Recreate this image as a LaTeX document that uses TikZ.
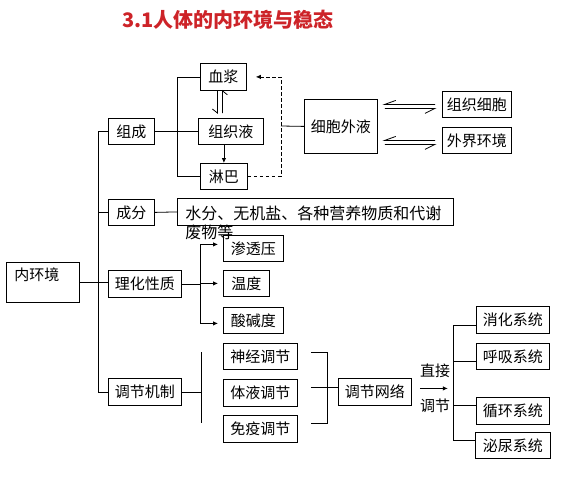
\documentclass[tikz,border=0pt]{standalone}
\usepackage{fontspec}
\newfontfamily\cjk{Noto Sans CJK SC}
\usetikzlibrary{arrows.meta,calc}
\definecolor{titlered}{RGB}{205,35,40}
\begin{document}
\begin{tikzpicture}[x=1pt,y=-1pt,line width=0.8pt,
  box/.style={draw,inner sep=0pt,anchor=north west,font=\cjk\fontsize{15}{19}\selectfont},
  lbl/.style={inner sep=0pt,font=\cjk\fontsize{15}{19}\selectfont},
  arr/.style={-{Latex[length=5pt,width=4.5pt]}},
  dsh/.style={dash pattern=on 3.5pt off 2.5pt}]
\useasboundingbox (0,0) rectangle (565,482);
% title
\node[inner sep=0pt,font=\cjk\bfseries\fontsize{20}{24}\selectfont,text=titlered] (title) at (228,20) {3.1人体的内环境与稳态};
% left column
\node[box,minimum width=73pt,minimum height=40pt] (nhj) at (6,262) {};
\node[lbl,anchor=west] (nhjt) at (14,275) {内环境};
\node[box,minimum width=46pt,minimum height=26pt] (zc) at (108,118) {组成};
\node[box,minimum width=46pt,minimum height=26pt] (cf) at (108,199) {成分};
\node[box,minimum width=73pt,minimum height=27pt] (lh) at (108,270) {理化性质};
\node[box,minimum width=73pt,minimum height=27pt] (tj) at (108,378) {调节机制};
% composition
\node[box,minimum width=46pt,minimum height=27pt] (xj) at (200,63) {血浆};
\node[box,minimum width=65pt,minimum height=26pt] (zzy) at (198,118) {组织液};
\node[box,minimum width=47pt,minimum height=26pt] (lb) at (200,163) {淋巴};
\node[box,minimum width=73pt,minimum height=54pt] (xbwy) at (304,99) {细胞外液};
\node[box,minimum width=69pt,minimum height=26pt] (zzxb) at (442,91) {组织细胞};
\node[box,minimum width=69pt,minimum height=26pt] (wjhj) at (442,127) {外界环境};
% components
\node[box,minimum width=276pt,minimum height=27pt] (sf) at (177,198) {};
\node[inner sep=0pt,anchor=west,font=\cjk\fontsize{16}{19}\selectfont] (sft1) at (185,213) {水分、无机盐、各种营养物质和代谢};
\node[inner sep=0pt,anchor=west,font=\cjk\fontsize{16}{19}\selectfont] (sft2) at (185,232) {废物等};
% properties
\node[box,minimum width=60pt,minimum height=26pt] (stya) at (223,235) {渗透压};
\node[box,minimum width=46pt,minimum height=26pt] (wd) at (223,270) {温度};
\node[box,minimum width=60pt,minimum height=26pt] (sjd) at (223,307) {酸碱度};
% regulation
\node[box,minimum width=74pt,minimum height=26pt] (sj) at (223,343) {神经调节};
\node[box,minimum width=74pt,minimum height=27pt] (ty) at (223,379) {体液调节};
\node[box,minimum width=74pt,minimum height=27pt] (my) at (223,415) {免疫调节};
\node[box,minimum width=73pt,minimum height=27pt] (wl) at (338,378) {调节网络};
\node[lbl] (zj) at (435,371) {直接};
\node[lbl] (tjl) at (435,406) {调节};
\node[box,minimum width=73pt,minimum height=27pt] (xh) at (476,306) {消化系统};
\node[box,minimum width=73pt,minimum height=26pt] (hx) at (476,343) {呼吸系统};
\node[box,minimum width=73pt,minimum height=27pt] (xhn) at (476,397) {循环系统};
\node[box,minimum width=75pt,minimum height=26pt] (mn) at (475,432) {泌尿系统};
% bar coordinates
\coordinate (b1) at (98,0);
\coordinate (b2) at (177,0);
\coordinate (b3) at (200,0);
\coordinate (b4) at (201,0);
\coordinate (b5) at (327,0);
\coordinate (b6) at (453,0);
\coordinate (dj) at (281,126);
% main tree
\draw (nhj.east) -- (nhj.east -| lh.west);
\draw (zc.west) -- (zc.west -| b1) -- (tj.west -| b1) -- (tj.west);
\draw (cf.west) -- (cf.west -| b1);
% composition bracket
\draw (zc.east) -- (zzy.west);
\draw (xj.west) -- (xj.west -| b2) -- (lb.west -| b2) -- (lb.west);
% harpoons plasma <-> tissue fluid
\draw ([xshift=-6pt]xj.south) -- ([xshift=-6pt,yshift=5pt]xj.south |- zzy.north) -- ++(-5,-4);
\draw ([xshift=-1pt,yshift=5pt]xj.south |- zzy.north) -- ([xshift=-1pt]xj.south) -- ++(5,4);
\draw[arr] (zzy.south -| lb.north) -- (lb.north);
% dashed loop
\draw[dsh,arr] (lb.east) -| (dj) |- ([xshift=9pt]xj.east);
\draw (dj) -- (xbwy.west);
% harpoons to cells / environment
\draw ([xshift=-7pt]zzxb.west) -- ([xshift=7pt]xbwy.east |- zzxb.west) -- ++(11,-4);
\draw ([xshift=7pt,yshift=-4pt]xbwy.east |- zzxb.west) -- ([xshift=-7pt,yshift=-4pt]zzxb.west) -- ++(-10,5);
\draw ([xshift=-7pt]wjhj.west) -- ([xshift=7pt]xbwy.east |- wjhj.west) -- ++(11,-4);
\draw ([xshift=7pt,yshift=-4pt]xbwy.east |- wjhj.west) -- ([xshift=-7pt,yshift=-4pt]wjhj.west) -- ++(-10,5);
% components
\draw (cf.east) -- (sf.west);
% properties
\draw (lh.east) -- (lh.east -| b3);
\draw ([yshift=4pt]stya.west -| b3) -- ([yshift=-3pt]sjd.west -| b3);
\draw[arr] ([yshift=4pt]stya.west -| b3) -- ([xshift=-5pt,yshift=4pt]stya.west);
\draw[arr] (wd.west -| b3) -- ([xshift=-5pt]wd.west);
\draw[arr] ([yshift=-3pt]sjd.west -| b3) -- ([xshift=-5pt,yshift=-3pt]sjd.west);
% regulation
\draw (tj.east) -- (tj.east -| b4);
\draw ([yshift=4pt]sj.west -| b4) -- ([yshift=5.5pt]my.west -| b4);
\draw ([xshift=13pt,yshift=4pt]sj.east) -- ([yshift=4pt]sj.east -| b5) -- ([yshift=5.5pt]my.east -| b5) -- ([xshift=13pt,yshift=5.5pt]my.east);
\draw ([xshift=13pt,yshift=5.5pt]ty.east) -- ([yshift=5.5pt]ty.east -| wl.west);
\draw[arr] ([xshift=8pt,yshift=3.5pt]wl.east) -- ([xshift=36pt,yshift=3.5pt]wl.east);
% systems
\draw ([yshift=-5.5pt]xh.west) -- ([yshift=-5.5pt]xh.west -| b6) -- ([yshift=5pt]mn.west -| b6) -- ([yshift=5pt]mn.west);
\draw ([yshift=-5pt]hx.west) -- ([yshift=-5pt]hx.west -| b6);
\draw ([yshift=5.5pt]xhn.west) -- ([yshift=5.5pt]xhn.west -| b6);
\end{tikzpicture}
\end{document}
